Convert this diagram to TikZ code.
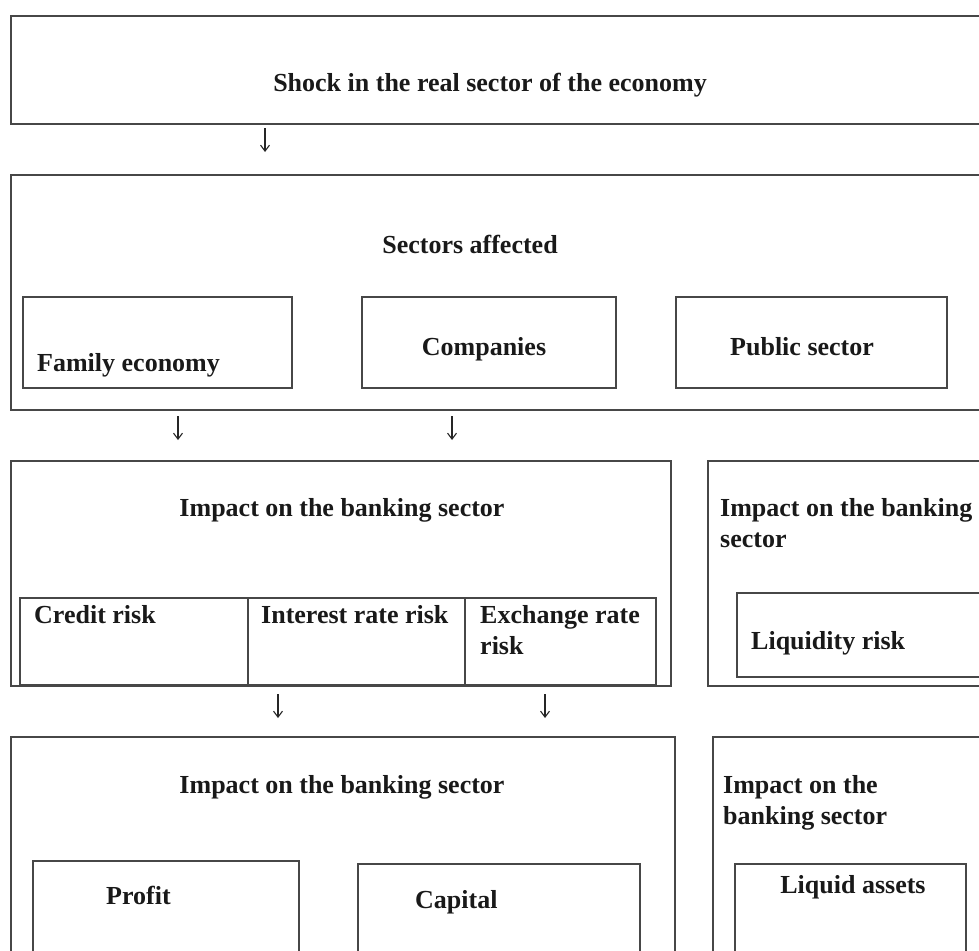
\documentclass[tikz,border=0pt]{standalone}
\usepackage{fontspec}
\setmainfont{Liberation Serif}
\usetikzlibrary{arrows.meta}
\begin{document}
\begin{tikzpicture}[x=1pt,y=-1pt,
  box/.style={draw=black!72, line width=1.1pt, inner sep=0pt, outer sep=0pt, anchor=north west},
  lbl/.style={font=\bfseries\fontsize{26}{31}\selectfont, inner sep=0pt, text=black!90},
  arr/.style={-{Straight Barb[length=6pt,width=9pt]}, line width=1.1pt, black!85}]
\useasboundingbox (0,0) rectangle (979,950);
\clip (0,0) rectangle (979,950);
% boxes
\node[box, minimum width=1000pt, minimum height=108pt] (shock) at (11,16) {};
\node[box, minimum width=1000pt, minimum height=235pt] (sectors) at (11,175) {};
\node[box, minimum width=269pt, minimum height=91pt] (fam) at (23,297) {};
\node[box, minimum width=254pt, minimum height=91pt] (comp) at (362,297) {};
\node[box, minimum width=271pt, minimum height=91pt] (pub) at (676,297) {};
\node[box, minimum width=660pt, minimum height=225pt] (imp1) at (11,461) {};
\node[box, minimum width=228pt, minimum height=87pt] (credit) at (20,598) {};
\node[box, minimum width=217pt, minimum height=87pt] (inter) at (248,598) {};
\node[box, minimum width=191pt, minimum height=87pt] (exch) at (465,598) {};
\node[box, minimum width=300pt, minimum height=225pt] (imp2) at (708,461) {};
\node[box, minimum width=300pt, minimum height=84pt] (liq) at (737,593) {};
\node[box, minimum width=664pt, minimum height=300pt] (imp3) at (11,737) {};
\node[box, minimum width=266pt, minimum height=200pt] (profit) at (33,861) {};
\node[box, minimum width=282pt, minimum height=200pt] (capital) at (358,864) {};
\node[box, minimum width=300pt, minimum height=300pt] (imp4) at (713,737) {};
\node[box, minimum width=231pt, minimum height=200pt] (liqa) at (735,864) {};
% texts
\node[lbl, anchor=base] (tshock) at (490,91) {Shock in the real sector of the economy};
\node[lbl, anchor=base] (tsect) at (470,253) {Sectors affected};
\node[lbl, anchor=base west] (tfam) at (37,371) {Family economy};
\node[lbl, anchor=base] (tcomp) at (484,355) {Companies};
\node[lbl, anchor=base west] (tpub) at (730,355) {Public sector};
\node[lbl, anchor=base] (timp1) at (342,516) {Impact on the banking sector};
\node[lbl, anchor=base west] (tcred) at (34,623) {Credit risk};
\node[lbl, anchor=base west] (tint) at (261,623) {Interest rate risk};
\node[lbl, anchor=base west] (texch) at (480,623) {Exchange rate};
\node[lbl, anchor=base west] (texch2) at (480,654) {risk};
\node[lbl, anchor=base west] (timp2) at (720,516) {Impact on the banking};
\node[lbl, anchor=base west] (timp2b) at (720,547) {sector};
\node[lbl, anchor=base west] (tliq) at (751,649) {Liquidity risk};
\node[lbl, anchor=base] (timp3) at (342,793) {Impact on the banking sector};
\node[lbl, anchor=base west] (timp4) at (723,793) {Impact on the};
\node[lbl, anchor=base west] (timp4b) at (723,824) {banking sector};
\node[lbl, anchor=base west] (tprof) at (106,904) {Profit};
\node[lbl, anchor=base west] (tcap) at (415,908) {Capital};
\node[lbl, anchor=base] (tliqa) at (853,893) {Liquid assets};
% arrows
\coordinate (a1s) at (265,128); \coordinate (a1e) at (265,152);
\coordinate (a2s) at (178,416); \coordinate (a2e) at (178,440);
\coordinate (a3s) at (452,416); \coordinate (a3e) at (452,440);
\coordinate (a4s) at (278,694); \coordinate (a4e) at (278,718);
\coordinate (a5s) at (545,694); \coordinate (a5e) at (545,718);
\draw[arr] (a1s) -- (a1e);
\draw[arr] (a2s) -- (a2e);
\draw[arr] (a3s) -- (a3e);
\draw[arr] (a4s) -- (a4e);
\draw[arr] (a5s) -- (a5e);
\end{tikzpicture}
\end{document}
